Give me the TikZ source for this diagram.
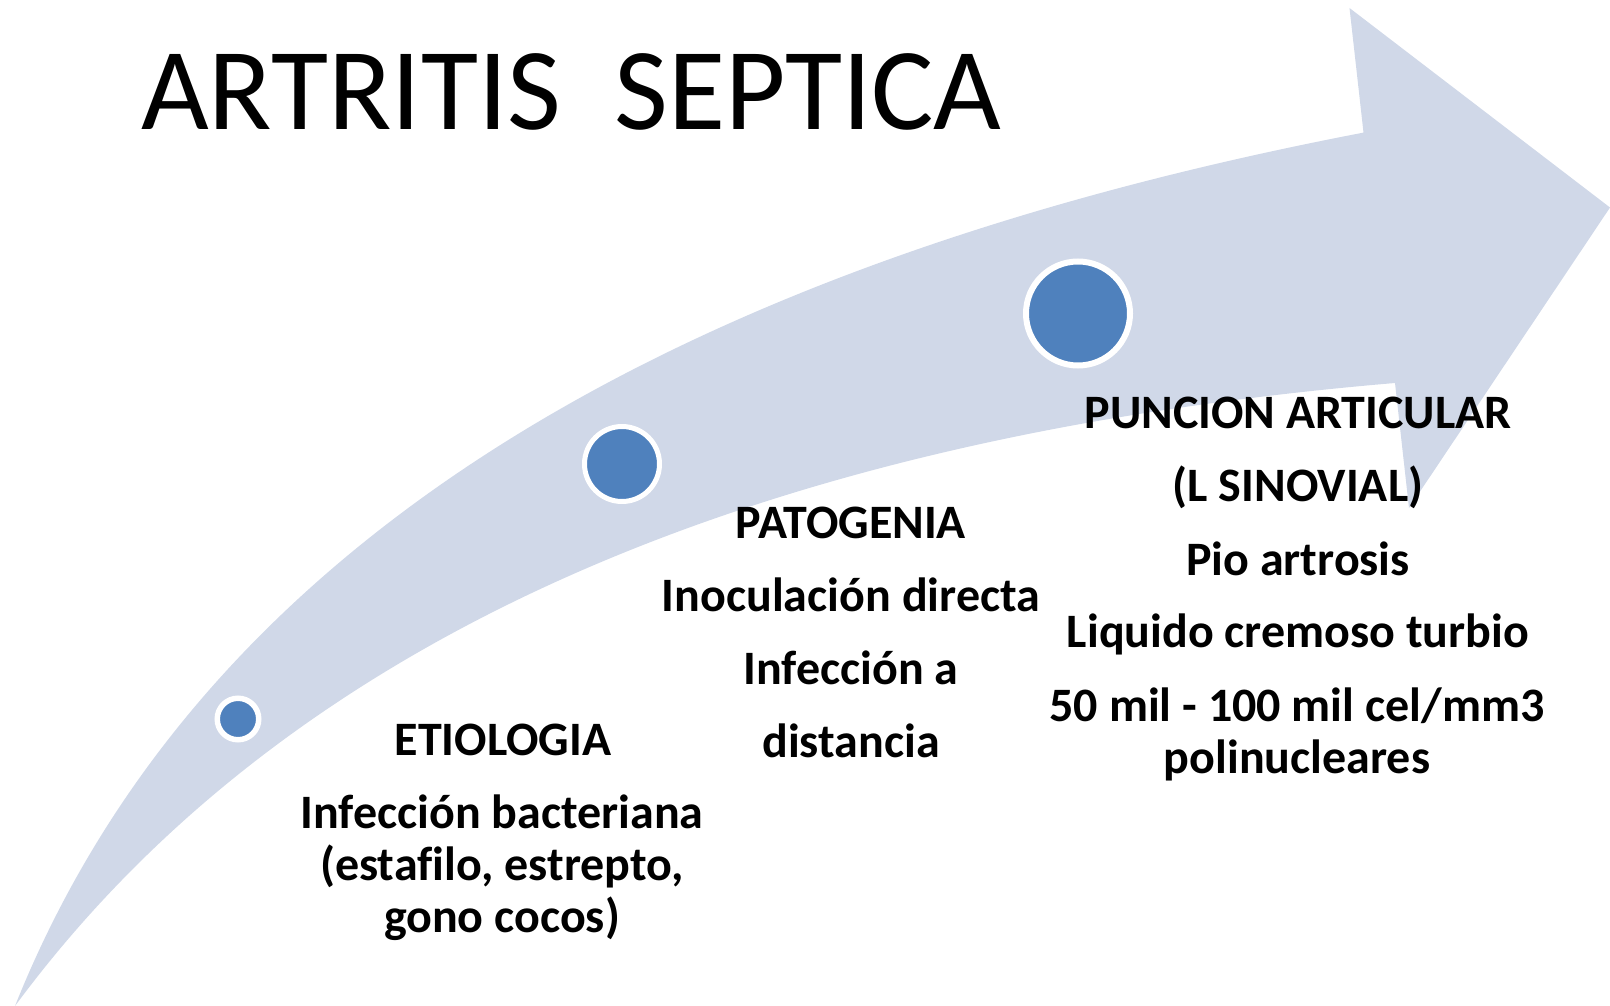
\documentclass[tikz,border=0pt]{standalone}
\usepackage{fontspec}
\setmainfont{Carlito}[Ligatures=NoCommon]
\usetikzlibrary{calc}
\definecolor{swooshfill}{RGB}{208,216,232}
\definecolor{dotblue}{RGB}{79,129,189}
\tikzset{
  swoosh/.style={fill=swooshfill},
  dotnode/.style={circle, fill=dotblue, draw=white, inner sep=0pt},
  titletext/.style={anchor=base west, inner sep=0pt, font=\fontsize{117}{120}\selectfont},
  bodytext/.style={anchor=base, inner sep=0pt, font=\fontsize{48}{52}\selectfont\bfseries},
}
\begin{document}
\begin{tikzpicture}[x=1pt,y=-1pt]
\useasboundingbox (0,0) rectangle (1610,1006);
% swoosh arrow
\coordinate (tail) at (15,1006);
\coordinate (cU) at (280.8,340.3);
\coordinate (nB) at (1363.5,132.6);
\coordinate (hT) at (1349.5,8);
\coordinate (tip) at (1610,207.5);
\coordinate (hE) at (1409,508);
\coordinate (nF) at (1395,383);
\coordinate (cL) at (413.75,466);
\fill[swoosh] (tail) .. controls ($(tail)!2/3!(cU)$) and ($(nB)!2/3!(cU)$) .. (nB)
  -- (hT) -- (tip) -- (hE) -- (nF)
  .. controls ($(nF)!2/3!(cL)$) and ($(tail)!2/3!(cL)$) .. (tail) -- cycle;
% dots
\node[dotnode, minimum size=41.5pt, line width=5.5pt] (d1) at (238,719) {};
\node[dotnode, minimum size=75pt, line width=5pt] (d2) at (622,464) {};
\node[dotnode, minimum size=104pt, line width=6pt] (d3) at (1078,313.5) {};
% title
\node[titletext] (title) at (141,130) {ARTRITIS\ \ SEPTICA};
% etiologia
\node[bodytext] (e1) at (503,755) {ETIOLOGIA};
\node[bodytext] (e2) at (502,828) {Infección bacteriana};
\node[bodytext] (e3) at (502,880) {(estafilo, estrepto,};
\node[bodytext] (e4) at (502,932) {gono cocos)};
% patogenia
\node[bodytext] (p1) at (851,538) {PATOGENIA};
\node[bodytext] (p2) at (851,611) {Inoculación directa};
\node[bodytext] (p3) at (851,684) {Infección a};
\node[bodytext] (p4) at (851,757) {distancia};
% puncion
\node[bodytext] (u1) at (1298,428) {PUNCION ARTICULAR};
\node[bodytext] (u2) at (1298,501) {(L SINOVIAL)};
\node[bodytext] (u3) at (1298,575) {Pio artrosis};
\node[bodytext] (u4) at (1298,647) {Liquido cremoso turbio};
\node[bodytext] (u5) at (1297,721) {50 mil - 100 mil cel/mm3};
\node[bodytext] (u6) at (1297,773) {polinucleares};
\end{tikzpicture}
\end{document}
